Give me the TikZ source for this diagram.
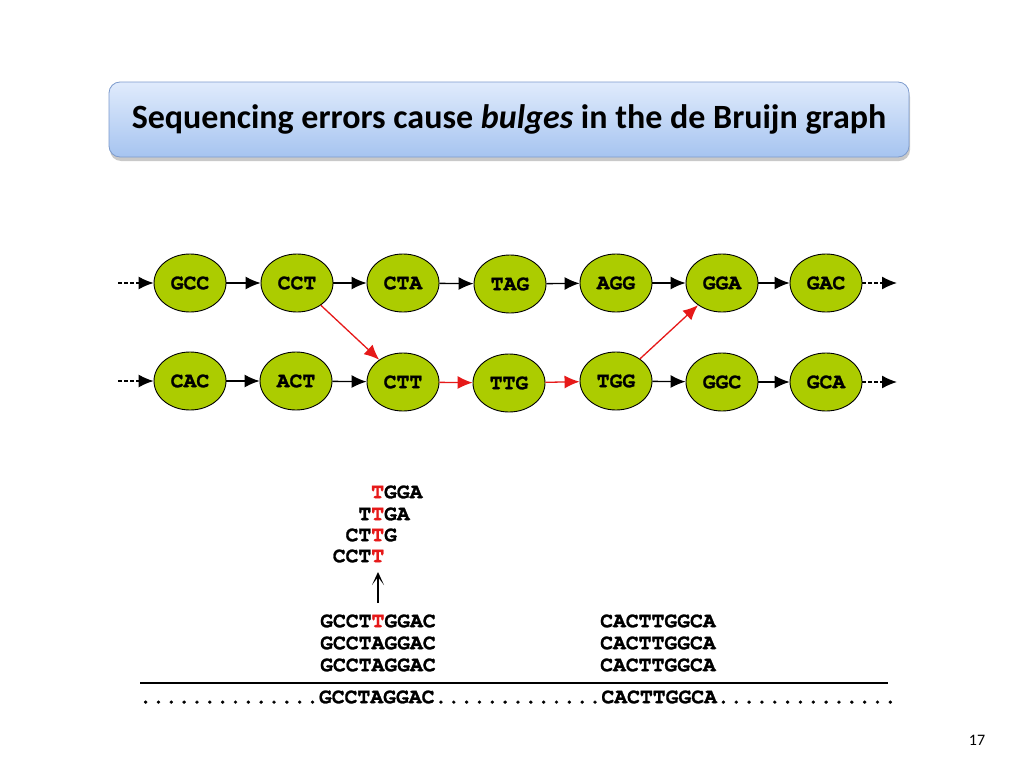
\documentclass[tikz,border=0pt]{standalone}
\usepackage{fontspec}
\setmainfont{Carlito}
\newfontfamily\monof[FakeBold=1.2]{TeX Gyre Cursor}
\usetikzlibrary{arrows.meta,shadows,shapes.geometric}
\definecolor{nodegreen}{RGB}{172,204,0}
\definecolor{errred}{RGB}{230,25,25}
\definecolor{boxtop}{RGB}{224,235,252}
\definecolor{boxbot}{RGB}{166,196,240}
\definecolor{boxline}{RGB}{125,155,205}
\begin{document}
\begin{tikzpicture}[x=1pt,y=-1pt,
  kmer/.style={ellipse, draw=black, line width=0.9pt, fill=nodegreen, minimum width=72pt, minimum height=58pt, inner sep=0pt, font=\monof\bfseries\fontsize{21.4}{24}\selectfont},
  edge/.style={line width=1.3pt, -{Latex[length=15pt,width=13pt]}},
  erredge/.style={edge, draw=errred, color=errred},
  lead/.style={edge, dash pattern=on 4pt off 2pt},
  seq/.style={inner sep=0pt, anchor=west, font=\monof\bfseries\fontsize{21.4}{24}\selectfont},
  titlebox/.style={draw=boxline, line width=0.8pt, rounded corners=11pt, minimum width=800pt, minimum height=75pt, top color=boxtop, bottom color=boxbot, drop shadow={shadow xshift=1pt, shadow yshift=-4pt, opacity=0.35, fill=black!60}, font=\bfseries\fontsize{34}{40}\selectfont},
]
\useasboundingbox (0,0) rectangle (1024,768);
\fill[white] (0,0) rectangle (1024,768);

% title
\node[titlebox] (title) at (509,119.5) {Sequencing errors cause \textit{bulges} in the de Bruijn graph};

% top row
\node[kmer] (gcc) at (190,283) {GCC};
\node[kmer] (cct) at (297,283) {CCT};
\node[kmer] (cta) at (403,283) {CTA};
\node[kmer] (tag) at (510,284) {TAG};
\node[kmer] (agg) at (616,283) {AGG};
\node[kmer] (gga) at (722,283) {GGA};
\node[kmer] (gac) at (826,283) {GAC};
% bottom row
\node[kmer] (cac) at (190,381) {CAC};
\node[kmer] (act) at (296,381) {ACT};
\node[kmer] (ctt) at (403,382) {CTT};
\node[kmer] (ttg) at (509,383) {TTG};
\node[kmer] (tgg) at (616,381) {TGG};
\node[kmer] (ggc) at (722,382) {GGC};
\node[kmer] (gca) at (826,382) {GCA};

\coordinate (l1) at (118,283);
\coordinate (l2) at (118,381);
\coordinate (r1) at (897,283);
\coordinate (r2) at (897,382);

\draw[lead] (l1) -- (gcc);
\draw[lead] (l2) -- (cac);
\draw[lead] (gac) -- (r1);
\draw[lead] (gca) -- (r2);

\draw[edge] (gcc) -- (cct);
\draw[edge] (cct) -- (cta);
\draw[edge] (cta) -- (tag);
\draw[edge] (tag) -- (agg);
\draw[edge] (agg) -- (gga);
\draw[edge] (gga) -- (gac);

\draw[edge] (cac) -- (act);
\draw[edge] (act) -- (ctt);
\draw[edge] (tgg) -- (ggc);
\draw[edge] (ggc) -- (gca);

\draw[erredge] (cct) -- (ctt);
\draw[erredge] (ctt) -- (ttg);
\draw[erredge] (ttg) -- (tgg);
\draw[erredge] (tgg) -- (gga);

% k-mers of the erroneous read
\node[seq] (k4) at (371,492) {\textcolor{errred}{T}GGA};
\node[seq] (k3) at (358.2,514) {T\textcolor{errred}{T}GA};
\node[seq] (k2) at (345.4,535) {CT\textcolor{errred}{T}G};
\node[seq] (k1) at (332.6,556) {CCT\textcolor{errred}{T}};

% reads
\node[seq] (ra1) at (320,621) {GCCT\textcolor{errred}{T}GGAC};
\node[seq] (ra2) at (320,643) {GCCTAGGAC};
\node[seq] (ra3) at (320,665) {GCCTAGGAC};
\node[seq] (rb1) at (600,621) {CACTTGGCA};
\node[seq] (rb2) at (600,643) {CACTTGGCA};
\node[seq] (rb3) at (600,665) {CACTTGGCA};

\coordinate (up1) at (378,603);
\coordinate (up2) at (378,572);
\draw[line width=2.2pt, -{Stealth[length=13pt,width=12pt,inset=8pt]}] (up1) -- (up2);

% genome
\coordinate (g1) at (140,683);
\coordinate (g2) at (888,683);
\draw[line width=1.2pt] (g1) -- (g2);
\node[seq] (genome) at (139,697) {..............GCCTAGGAC.............CACTTGGCA..............};

% page number
\node[font=\fontsize{16}{18}\selectfont, inner sep=0pt] (pnum) at (977,740) {17};
\end{tikzpicture}
\end{document}
